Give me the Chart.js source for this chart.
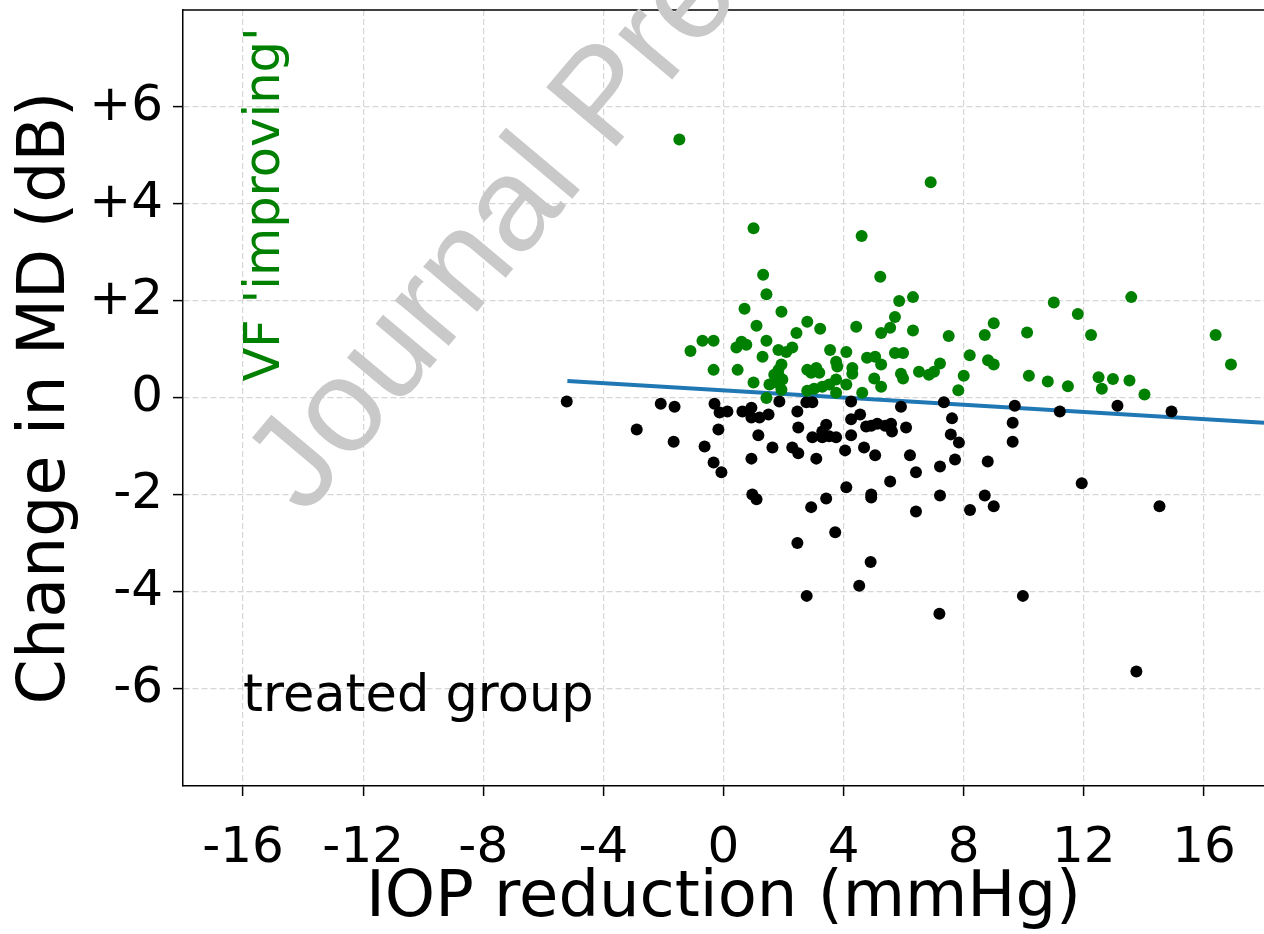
<!DOCTYPE html>
<html>
<head>
<meta charset="utf-8">
<title>IOP reduction x Change in MD</title>
<script src="https://cdn.jsdelivr.net/npm/chart.js@4.4.1/dist/chart.umd.min.js"></script>
<style>
    html, body { margin: 0; padding: 0; background: #fff; overflow: hidden; }
    canvas { display: block; }
</style>
</head>
<body>
<canvas id="graficoMD" width="1264" height="934"></canvas>
<script>

// eixos

const xTicks = [-16, -12, -8, -4, 0, 4, 8, 12, 16]
const yTicks = [-6, -4, -2, 0, 2, 4, 6]
const yTickLabels = ['-6', '-4', '-2', '0', '+2', '+4', '+6']

// pontos verdes (VF 'improving')

const improvingX = [
    -1.47, 6.90, 1.00, 4.60, 1.32, 5.22, 1.43, 0.70, -0.70, -0.33,
    -1.10, 0.60, 0.43, 0.76, -0.33, 0.47, 1.00, 1.93, 1.10, 2.79,
    3.22, 2.43, 1.43, 1.83, 2.09, 2.29, 1.30, 3.55, 4.09, 4.42,
    5.25, 5.55, 5.71, 5.85, 6.31, 6.31, 7.50, 1.93, 1.83, 1.69,
    1.86, 1.96, 1.76, 2.79, 3.09, 2.92, 3.19, 3.75, 3.79, 4.29,
    4.29, 4.78, 5.05, 5.25, 5.71, 5.98, 5.91, 5.98, 6.51, 6.84,
    7.01, 7.21, 5.02, 5.25, 4.09, 4.62, 1.53, 1.93, 3.75, 3.52,
    3.29, 3.02, 2.79, 3.75, 1.43, 11.0, 13.58, 11.8, 9.0, 8.7,
    10.11, 12.24, 8.2, 8.81, 9.0, 8.0, 7.82, 10.17, 10.8, 11.47,
    12.49, 12.6, 12.97, 13.52, 14.02, 16.39, 16.9
]
const improvingY = [
    5.33, 4.45, 3.50, 3.34, 2.54, 2.50, 2.14, 1.84, 1.18, 1.18,
    0.97, 1.16, 1.04, 1.10, 0.58, 0.58, 0.32, 1.78, 1.49, 1.57,
    1.43, 1.34, 1.18, 0.99, 0.95, 1.04, 0.85, 0.99, 0.95, 1.47,
    1.34, 1.45, 1.67, 2.00, 2.08, 1.39, 1.28, 0.69, 0.58, 0.48,
    0.44, 0.38, 0.32, 0.58, 0.62, 0.52, 0.52, 0.75, 0.65, 0.62,
    0.50, 0.83, 0.85, 0.69, 0.93, 0.93, 0.50, 0.40, 0.54, 0.48,
    0.54, 0.71, 0.40, 0.23, 0.28, 0.11, 0.28, 0.17, 0.38, 0.28,
    0.23, 0.19, 0.15, 0.11, 0.00, 1.97, 2.08, 1.73, 1.54, 1.30,
    1.35, 1.30, 0.88, 0.78, 0.69, 0.46, 0.16, 0.46, 0.34, 0.24,
    0.43, 0.19, 0.39, 0.36, 0.07, 1.30, 0.69
]

// pontos pretos

const otherX = [
    -5.22, -2.09, -1.63, -0.30, -2.89, -1.66, -0.17, -0.63, -0.33, -0.07,
    -0.13, 0.13, 0.63, 0.93, 0.93, 1.20, 1.50, 1.16, 1.63, 0.93,
    1.86, 2.46, 2.76, 2.96, 2.49, 2.29, 2.49, 2.96, 3.42, 3.29,
    3.29, 3.52, 3.75, 3.09, 4.25, 4.25, 4.55, 4.25, 4.05, 4.75,
    4.68, 0.96, 1.10, 5.05, 4.92, 5.12, 5.38, 5.58, 5.61, 5.91,
    6.08, 6.21, 6.41, 7.21, 7.34, 7.21, 6.41, 5.55, 4.92, 4.92,
    4.09, 3.42, 2.92, 3.72, 2.46, 7.61, 7.57, 7.84, 7.71, 9.70,
    9.63, 9.63, 8.80, 8.70, 8.21, 9.00, 11.2, 11.93, 13.12, 14.92,
    14.52, 4.90, 4.52, 2.77, 7.19, 9.97, 13.75
]
const otherY = [
    -0.07, -0.12, -0.18, -0.12, -0.65, -0.90, -0.65, -1.00, -1.33, -1.53,
    -0.30, -0.28, -0.28, -0.20, -0.40, -0.40, -0.34, -0.77, -1.02, -1.25,
    -0.07, -0.28, -0.09, -0.09, -0.61, -1.02, -1.14, -0.81, -0.55, -0.69,
    -0.81, -0.79, -0.81, -1.25, -0.07, -0.44, -0.34, -0.77, -1.08, -0.59,
    -1.02, -1.99, -2.09, -1.18, -0.57, -0.53, -0.57, -0.53, -0.69, -0.18,
    -0.61, -1.18, -1.53, -1.41, -0.09, -2.01, -2.34, -1.72, -1.99, -2.05,
    -1.84, -2.07, -2.25, -2.77, -2.99, -0.42, -0.75, -0.92, -1.27, -0.16,
    -0.51, -0.90, -1.31, -2.01, -2.31, -2.23, -0.28, -1.76, -0.16, -0.28,
    -2.23, -3.38, -3.87, -4.08, -4.45, -4.08, -5.64
]

// reta de regressao

const fitX = [-5.2, 18]
const fitY = [0.35, -0.51]

function pares(xs, ys) {
    return xs.map((v, i) => ({ x: v, y: ys[i] }))
}

// textos e moldura

const textos = {
    id: 'textos',
    afterDraw(chart) {
        const { ctx, chartArea, scales: { x, y } } = chart
        ctx.save()

        // linha de cima da moldura
        ctx.strokeStyle = '#000'
        ctx.lineWidth = 1.5
        ctx.beginPath()
        ctx.moveTo(chartArea.left, chartArea.top)
        ctx.lineTo(chartArea.right, chartArea.top)
        ctx.stroke()

        ctx.font = '51px "DejaVu Sans"'
        ctx.fillStyle = '#000'
        ctx.textBaseline = 'alphabetic'
        ctx.textAlign = 'left'
        ctx.fillText('treated group', x.getPixelForValue(-16), y.getPixelForValue(-6.45))

        ctx.save()
        ctx.font = '49.5px "DejaVu Sans"'
        ctx.fillStyle = '#008000'
        ctx.translate(x.getPixelForValue(-16) + 0.73 * 49.5, y.getPixelForValue(0.34))
        ctx.rotate(-Math.PI / 2)
        ctx.fillText("VF 'improving'", 0, 0)
        ctx.restore()

        // marca d'agua
        ctx.save()
        ctx.font = '133px "Liberation Sans"'
        ctx.fillStyle = '#c9c9c9'
        ctx.translate(305, 517)
        ctx.rotate(-50 * Math.PI / 180)
        ctx.fillText('Journal Pre-proof', 0, 0)
        ctx.restore()

        ctx.restore()
    }
}

const ctx = document.getElementById('graficoMD')

const myChart = new Chart(ctx, {
    type: 'scatter',
    data: {
        datasets: [
            {
                label: 'improving',
                data: pares(improvingX, improvingY),
                backgroundColor: '#008000',
                borderWidth: 0,
                pointRadius: 6
            },
            {
                label: 'treated',
                data: pares(otherX, otherY),
                backgroundColor: '#000000',
                borderWidth: 0,
                pointRadius: 6
            },
            {
                label: 'fit',
                type: 'line',
                data: pares(fitX, fitY),
                borderColor: '#1f77b4',
                borderWidth: 4,
                pointRadius: 0,
                fill: false
            }
        ]
    },
    options: {
        responsive: false,
        animation: false,
        events: [],
        layout: { autoPadding: false, padding: { top: 10, left: 0, right: 0, bottom: 0 } },
        plugins: {
            legend: { display: false },
            tooltip: { enabled: false }
        },
        scales: {
            x: {
                type: 'linear',
                min: -18,
                max: 18,
                afterBuildTicks: s => { s.ticks = xTicks.map(v => ({ value: v })) },
                afterFit: s => { s.height = 148; s.paddingLeft = 0; s.paddingRight = 0 },
                ticks: {
                    autoSkip: false,
                    maxRotation: 0,
                    padding: 23,
                    color: '#000',
                    font: { family: 'DejaVu Sans', size: 50 },
                    callback: v => String(v)
                },
                grid: {
                    color: '#d6d6d6',
                    lineWidth: 1.2,
                    tickLength: 10,
                    tickColor: '#000',
                    tickWidth: 1.5,
                    tickBorderDash: []
                },
                border: { display: true, color: '#000', width: 1.5, dash: [6, 3] },
                title: {
                    display: true,
                    text: 'IOP reduction (mmHg)',
                    color: '#000',
                    font: { family: 'DejaVu Sans', size: 64, lineHeight: 1 },
                    padding: { top: 0, bottom: 3 }
                }
            },
            y: {
                type: 'linear',
                min: -8,
                max: 8,
                afterBuildTicks: s => { s.ticks = yTicks.map(v => ({ value: v })) },
                afterFit: s => { s.width = 183; s.paddingTop = 0; s.paddingBottom = 0 },
                ticks: {
                    autoSkip: false,
                    padding: 10,
                    color: '#000',
                    font: { family: 'DejaVu Sans', size: 50 },
                    callback: v => yTickLabels[yTicks.indexOf(v)]
                },
                grid: {
                    color: '#d6d6d6',
                    lineWidth: 1.2,
                    tickLength: 10,
                    tickColor: '#000',
                    tickWidth: 1.5,
                    tickBorderDash: []
                },
                border: { display: true, color: '#000', width: 1.5, dash: [6, 3] },
                title: {
                    display: true,
                    text: 'Change in MD (dB)',
                    color: '#000',
                    font: { family: 'DejaVu Sans', size: 65, lineHeight: 1 },
                    padding: { top: 15, bottom: 0 }
                }
            }
        }
    },
    plugins: [textos]
})

</script>
</body>
</html>
